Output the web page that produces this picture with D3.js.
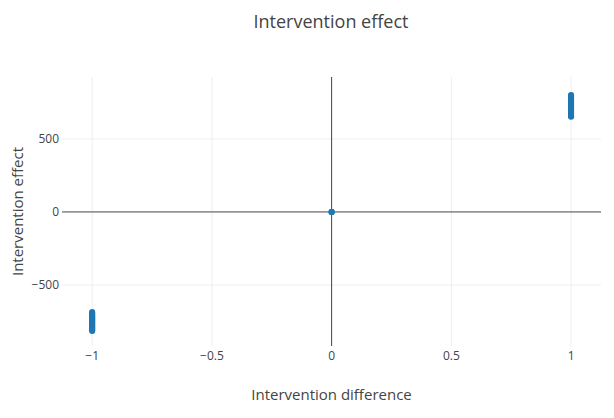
<!DOCTYPE html>
<html>
<head>
<meta charset="utf-8">
<script src="https://cdn.jsdelivr.net/npm/d3@7"></script>
<style>
  body { margin: 0; background: #fff; }
  text { font-family: "Open Sans", sans-serif; fill: #444; }
</style>
</head>
<body>
<svg id="chart"></svg>
<script>
// values
const differences = [-1, 0, 1];
const effectsAtMinusOne = [
  -686, -690, -695, -699, -704, -708, -712, -717, -721, -726, -731, -735,
  -740, -744, -749, -753, -758, -762, -767, -771, -776, -781, -785, -790,
  -794, -799, -803, -808, -812, -815
];
const effectsAtZero = [0, 0, 0, 0];
const effectsAtOne = [
  652, 656, 661, 666, 670, 675, 680, 684, 689, 694, 698, 703, 708, 712,
  717, 722, 726, 731, 736, 740, 745, 750, 754, 759, 764, 768, 773, 778,
  782, 787, 792, 797, 801
];
const xTicks = [-1, -0.5, 0, 0.5, 1];
const yTicks = [-500, 0, 500];

const config = {
  width: 614,
  height: 418,
  margin: { top: 77, right: 13, bottom: 72, left: 62 },
  markerColor: "#1f77b4",
  gridColor: "#eee",
  zeroColor: "#444",
};

const points = [
  ...effectsAtMinusOne.map((v) => ({ x: differences[0], y: v })),
  ...effectsAtZero.map((v) => ({ x: differences[1], y: v })),
  ...effectsAtOne.map((v) => ({ x: differences[2], y: v })),
];

const innerW = config.width - config.margin.left - config.margin.right;
const innerH = config.height - config.margin.top - config.margin.bottom;

const svg = d3
  .select("#chart")
  .attr("width", config.width)
  .attr("height", config.height);

const chart = svg
  .append("g")
  .attr("transform", `translate(${config.margin.left},${config.margin.top})`);

const xScale = d3.scaleLinear().domain([-1.126, 1.125]).range([0, innerW]);
const yScale = d3.scaleLinear().domain([-918, 924]).range([innerH, 0]);

const fmt = (d) => (d < 0 ? "\u2212" + Math.abs(d) : String(d));

// grid
chart
  .selectAll(".xgrid")
  .data(xTicks.filter((d) => d !== 0))
  .join("line")
  .attr("class", "xgrid")
  .attr("x1", (d) => xScale(d))
  .attr("x2", (d) => xScale(d))
  .attr("y1", 0)
  .attr("y2", innerH)
  .style("stroke", config.gridColor)
  .style("stroke-width", 1);

chart
  .selectAll(".ygrid")
  .data(yTicks.filter((d) => d !== 0))
  .join("line")
  .attr("class", "ygrid")
  .attr("x1", 0)
  .attr("x2", innerW)
  .attr("y1", (d) => yScale(d))
  .attr("y2", (d) => yScale(d))
  .style("stroke", config.gridColor)
  .style("stroke-width", 1);

// zero lines
chart
  .append("line")
  .attr("x1", 0)
  .attr("x2", innerW)
  .attr("y1", yScale(0))
  .attr("y2", yScale(0))
  .style("stroke", config.zeroColor)
  .style("stroke-width", 1);

chart
  .append("line")
  .attr("x1", xScale(0))
  .attr("x2", xScale(0))
  .attr("y1", 0)
  .attr("y2", innerH)
  .style("stroke", config.zeroColor)
  .style("stroke-width", 1);

// tick labels
chart
  .selectAll(".xtick")
  .data(xTicks)
  .join("text")
  .attr("class", "xtick")
  .attr("x", (d) => xScale(d))
  .attr("y", innerH + 14)
  .attr("text-anchor", "middle")
  .style("font-size", "12px")
  .text(fmt);

chart
  .selectAll(".ytick")
  .data(yTicks)
  .join("text")
  .attr("class", "ytick")
  .attr("x", -3)
  .attr("y", (d) => yScale(d))
  .attr("dy", "0.35em")
  .attr("text-anchor", "end")
  .style("font-size", "12px")
  .text(fmt);

// markers
chart
  .selectAll(".pt")
  .data(points)
  .join("circle")
  .attr("class", "pt")
  .attr("cx", (d) => xScale(d.x))
  .attr("cy", (d) => yScale(d.y))
  .attr("r", 3)
  .style("fill", config.markerColor);

// titles
svg
  .append("text")
  .attr("x", 331)
  .attr("y", 28)
  .attr("text-anchor", "middle")
  .style("font-size", "18px")
  .text("Intervention effect");

svg
  .append("text")
  .attr("x", config.margin.left + innerW / 2)
  .attr("y", 400)
  .attr("text-anchor", "middle")
  .style("font-size", "15px")
  .text("Intervention difference");

svg
  .append("text")
  .attr("transform", `translate(23,${config.margin.top + innerH / 2}) rotate(-90)`)
  .attr("text-anchor", "middle")
  .style("font-size", "15px")
  .text("Intervention effect");
</script>
</body>
</html>
